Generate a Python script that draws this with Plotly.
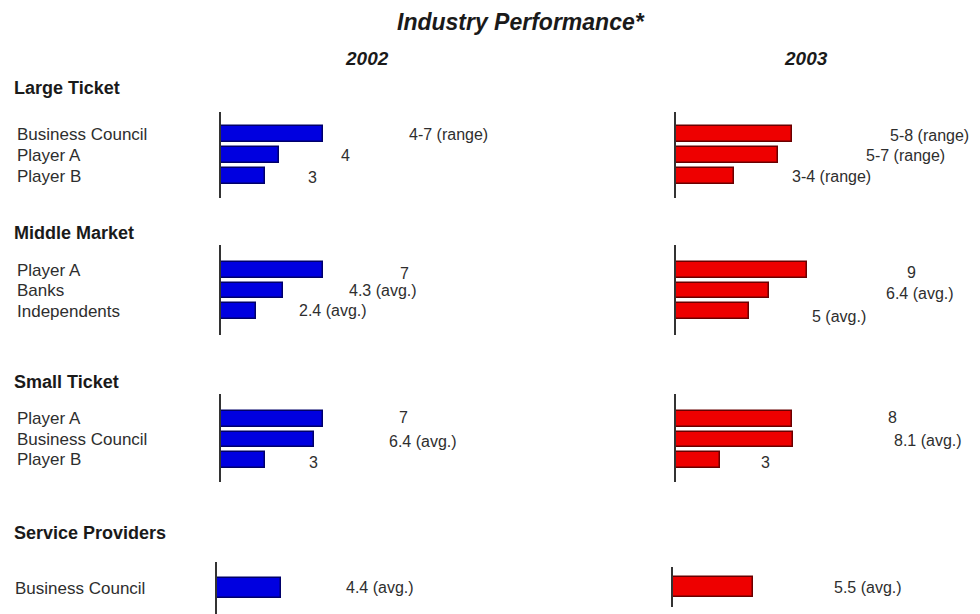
import plotly.graph_objects as go

# ---------------- data ----------------
groups = ["Large Ticket", "Middle Market", "Small Ticket", "Service Providers"]
categories = [
    ["Business Council", "Player A", "Player B"],
    ["Player A", "Banks", "Independents"],
    ["Player A", "Business Council", "Player B"],
    ["Business Council"],
]
years = ["2002", "2003"]
values_2002 = [[7, 4, 3], [7, 4.3, 2.4], [7, 6.4, 3], [4.4]]
values_2003 = [[8, 7, 4], [9, 6.4, 5], [8, 8.1, 3], [5.5]]
labels_2002 = [["4-7 (range)", "4", "3"], ["7", "4.3 (avg.)", "2.4 (avg.)"],
               ["7", "6.4 (avg.)", "3"], ["4.4 (avg.)"]]
labels_2003 = [["5-8 (range)", "5-7 (range)", "3-4 (range)"], ["9", "6.4 (avg.)", "5 (avg.)"],
               ["8", "8.1 (avg.)", "3"], ["5.5 (avg.)"]]
title_text = "Industry Performance*"

# ---------------- layout geometry (pixels) ----------------
W, H = 980, 614
def px(x):
    return x / W
def py(y):
    return 1 - y / H

PX_PER_UNIT = 14.5
X_RANGE = 10
axis_x = [[221, 676], [221, 676], [221, 676], [217, 673]]
# per group: (axis top, axis bottom, first bar centre, step) for each year
y_geom = [
    [(112, 198, 134, 21), (112, 198, 134, 21)],
    [(245, 335, 270, 20.5), (245, 335, 270, 20.5)],
    [(394, 482, 419, 20.5), (394, 482, 419, 20.5)],
    [(562, 614, 588, 20), (567, 607, 587, 20)],
]
bar_px = [15.5, 15.5, 15.5, 20]
group_title_y = [88, 233, 382, 533]
label_x = [15, 15, 15, 13]
# value label offsets (dx from bar end, dy down) in px
label_off = [
    [[(126, 0), (66, 0), (48, 1)], [(137, 1), (128, 0), (97, 0)]],
    [[(82, 3), (100, 0), (77, -1)], [(105, 2), (151, 3), (90, 5)]],
    [[(81, -1), (109, 2), (49, 3)], [(100, -1), (135, 1), (46, 3)]],
    [[(99, -1)], [(115, 0)]],
]
colors = [("#0000E0", "#00006A"), ("#EE0000", "#6A0000")]
TEXT = "#2e2e2e"
FONT = "Arial, Liberation Sans, sans-serif"

fig = go.Figure()
annotations = []
layout_axes = {}
k = 0
all_values = [values_2002, values_2003]
all_labels = [labels_2002, labels_2003]
for g, cats in enumerate(categories):
    for j in range(2):
        k += 1
        xname = "x" if k == 1 else f"x{k}"
        yname = "y" if k == 1 else f"y{k}"
        xkey = "xaxis" if k == 1 else f"xaxis{k}"
        ykey = "yaxis" if k == 1 else f"yaxis{k}"
        top, bot, c0, step = y_geom[g][j]
        n = len(cats)
        a = (c0 - top) / step
        b = (bot - (c0 + (n - 1) * step)) / step
        x0 = axis_x[g][j]
        layout_axes[xkey] = dict(domain=[px(x0), px(x0 + PX_PER_UNIT * X_RANGE)],
                                 range=[0, X_RANGE], visible=False, anchor=yname,
                                 fixedrange=True)
        layout_axes[ykey] = dict(domain=[py(bot), py(top)], range=[n - 1 + b, -a],
                                 type="category", categoryorder="array", categoryarray=cats,
                                 showline=True, linecolor="#333333", linewidth=2,
                                 showticklabels=False, ticks="", showgrid=False,
                                 zeroline=False, anchor=xname, fixedrange=True)
        vals = all_values[j][g]
        fill, edge = colors[j]
        fig.add_trace(go.Bar(
            x=vals, y=cats, orientation="h", xaxis=xname, yaxis=yname,
            width=bar_px[g] / step,
            marker=dict(color=fill, line=dict(color=edge, width=1.5)),
            showlegend=False, hoverinfo="skip"))
        for i, (v, lab) in enumerate(zip(vals, all_labels[j][g])):
            dx, dy = label_off[g][j][i]
            annotations.append(dict(
                x=v, y=cats[i], xref=xname, yref=yname, text=lab, showarrow=False,
                xanchor="center", yanchor="middle", xshift=dx, yshift=-dy,
                font=dict(family=FONT, size=16, color=TEXT)))
        if j == 0:
            for i, c in enumerate(cats):
                annotations.append(dict(
                    x=px(label_x[g]), y=c, xref="paper", yref=yname, text=c,
                    showarrow=False, xanchor="left", yanchor="middle",
                    font=dict(family=FONT, size=17, color=TEXT)))
    annotations.append(dict(
        x=px(12), y=py(group_title_y[g]), xref="paper", yref="paper",
        text=f"<b>{groups[g]}</b>", showarrow=False, xanchor="left", yanchor="middle",
        font=dict(family=FONT, size=18, color="#1a1a1a")))

annotations.append(dict(x=px(521), y=py(22), xref="paper", yref="paper",
                        text=f"<b><i>{title_text}</i></b>", showarrow=False,
                        xanchor="center", yanchor="middle",
                        font=dict(family=FONT, size=23, color="#1a1a1a")))
for j, yr in enumerate(years):
    annotations.append(dict(x=px([367, 806][j]), y=py(58), xref="paper", yref="paper",
                            text=f"<b><i>{yr}</i></b>", showarrow=False,
                            xanchor="center", yanchor="middle",
                            font=dict(family=FONT, size=19, color="#1a1a1a")))

fig.update_layout(
    width=W, height=H, margin=dict(l=0, r=0, t=0, b=0),
    paper_bgcolor="white", plot_bgcolor="white",
    annotations=annotations, showlegend=False, bargap=0,
    **layout_axes)

fig.write_html("out.html", config={"displayModeBar": False})
